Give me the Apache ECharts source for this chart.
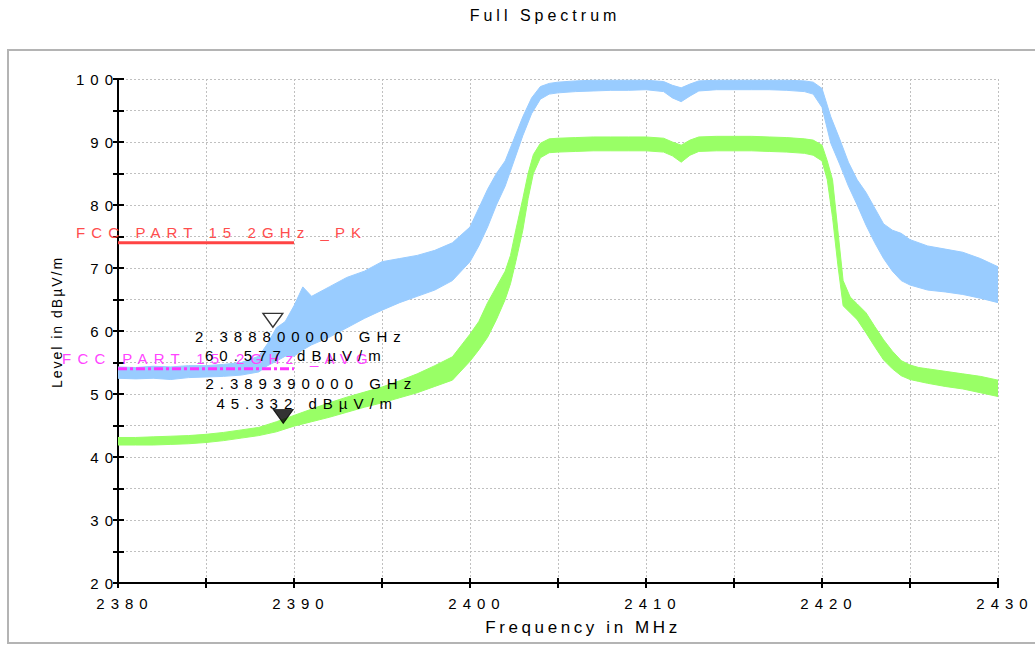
<!DOCTYPE html>
<html>
<head>
<meta charset="utf-8">
<script src="https://cdn.jsdelivr.net/npm/echarts@6/dist/echarts.min.js"></script>
<style>
html,body{margin:0;padding:0;background:#fff;}
#main{width:1035px;height:646px;}
</style>
</head>
<body>
<div id="main"></div>
<script>
// ---- data ----
const titleText = 'Full Spectrum';
const xName = 'Frequency in MHz';
const yName = 'Level in dBµV/m';

// Peak trace (blue) envelope: frequency (MHz), lower edge, upper edge (dBµV/m)
const peakFreq = [2380,2381,2382,2383,2384,2385,2386,2387,2388,2388.5,2389,2389.5,2390,2390.5,2391,2392,2393,2394,2395,2396,2397,2398,2399,2400,2400.5,2401,2401.5,2402,2402.5,2403,2403.5,2404,2404.5,2405,2406,2407,2408,2409,2410,2411,2411.5,2412,2412.5,2413,2414,2415,2416,2417,2418,2419,2419.5,2420,2420.5,2421,2421.5,2422,2422.5,2423,2423.5,2424,2424.5,2425,2426,2427,2428,2429,2430];
const peakLo   = [52.5,52.4,52.5,52.3,52.6,52.7,52.8,53.0,53.5,54.5,55.2,56.0,56.0,57.0,57.8,59.0,60.5,62.0,63.3,64.5,65.5,66.5,68.0,71.0,73.5,76.5,80.0,83.0,87.0,91.0,94.5,96.8,97.6,97.8,98.0,98.1,98.2,98.2,98.3,98.0,97.0,96.4,97.3,98.1,98.3,98.3,98.3,98.3,98.2,98.0,97.6,95.5,89.8,86.5,83.0,80.0,76.8,74.0,71.5,69.5,68.0,67.3,66.5,66.2,65.8,65.2,64.5];
const peakHi   = [54.3,54.2,54.4,54.3,54.5,54.5,54.7,55.0,56.0,58.0,60.5,61.5,64.0,67.0,65.5,67.0,68.5,69.5,71.0,71.5,72.0,72.8,74.0,76.5,79.5,82.5,85.0,87.0,90.5,94.0,97.0,98.8,99.3,99.5,99.7,99.8,99.8,99.8,99.8,99.6,99.0,98.6,99.2,99.7,99.8,99.8,99.8,99.8,99.8,99.7,99.5,98.5,94.0,90.5,86.8,84.0,82.0,79.5,77.0,76.0,75.5,74.5,73.5,73.0,72.5,71.5,70.2];

// Average trace (green) envelope
const avgFreq = [2380,2381,2382,2383,2384,2385,2386,2387,2388,2389,2390,2391,2392,2393,2394,2395,2396,2397,2398,2399,2400,2400.5,2401,2401.5,2402,2402.3,2402.6,2403,2403.3,2403.6,2404,2404.5,2405,2406,2407,2408,2409,2410,2411,2411.5,2412,2412.5,2413,2414,2415,2416,2417,2418,2419,2419.5,2420,2420.3,2420.6,2420.9,2421.2,2421.6,2422,2422.5,2423,2423.5,2424,2424.5,2425,2425.5,2426,2427,2428,2429,2430];
const avgLo   = [41.9,41.9,41.9,42.0,42.1,42.3,42.6,43.0,43.4,44.0,44.9,45.6,46.3,47.1,47.9,48.6,49.4,50.2,51.2,52.2,55.2,57.0,59.0,61.8,65.0,67.5,71.0,76.0,81.0,85.0,87.5,88.3,88.4,88.5,88.6,88.6,88.6,88.6,88.4,87.8,86.8,87.9,88.5,88.6,88.6,88.6,88.5,88.4,88.2,87.9,87.0,84.0,78.0,70.5,64.0,62.9,61.8,59.7,57.5,55.4,54.0,52.9,52.3,52.0,51.7,51.2,50.8,50.2,49.6];
const avgHi   = [43.1,43.1,43.2,43.3,43.4,43.6,43.9,44.3,44.7,45.6,46.6,47.6,48.6,49.5,50.3,51.1,52.1,53.2,54.5,55.9,59.5,61.5,64.5,67.0,69.5,72.0,76.0,81.0,85.0,88.0,89.8,90.5,90.6,90.7,90.8,90.8,90.8,90.8,90.6,90.0,89.5,90.3,90.8,90.9,90.9,90.9,90.8,90.7,90.5,90.3,89.5,87.0,84.0,76.0,68.0,65.4,64.3,62.9,60.7,58.6,56.8,55.3,54.6,54.2,54.0,53.6,53.2,52.8,52.2];

// Limit lines
const pkLimitName = 'FCC PART 15 2GHz _PK';
const pkLimitFreq = [2380, 2390];
const pkLimitLevel = [74, 74];
const avgLimitName = 'FCC PART 15 2GHz _AVG';
const avgLimitFreq = [2380, 2390];
const avgLimitLevel = [54, 54];

// Markers
const marker1 = [2388.8, 60.577];
const marker1Text = ['2.388800000 GHz', '60.577 dBµV/m'];
const marker2 = [2389.39, 45.332];
const marker2Text = ['2.389390000 GHz', '45.332 dBµV/m'];

// Axis ticks
const xMin = 2380, xMax = 2430, xStep = 5, xLabelStep = 10;
const yMin = 20, yMax = 100, yStep = 5, yLabelStep = 10;

// ---- chart ----
const FONT = '"Liberation Sans", Arial, sans-serif';
const BLUE = '#99ccff', GREEN = '#99ff66';
const chart = echarts.init(document.getElementById('main'), null, {renderer: 'svg'});

function bandSeries(freq, lo, hi, color, z) {
  return {
    type: 'custom',
    z: z,
    silent: true,
    clip: true,
    data: [[freq[0], lo[0]]],
    renderItem: function (params, api) {
      const pts = [];
      for (let i = 0; i < freq.length; i++) pts.push(api.coord([freq[i], hi[i]]));
      for (let i = freq.length - 1; i >= 0; i--) pts.push(api.coord([freq[i], lo[i]]));
      return {type: 'polygon', shape: {points: pts}, style: {fill: color, stroke: color, lineWidth: 1}};
    }
  };
}

const gridRect = {left: 118, top: 79, right: 37, bottom: 63};
const labelFont = {fontFamily: FONT, fontSize: 15, color: '#000'};
const gridLine = {show: true, lineStyle: {color: '#c0c0c0', type: [2, 2], width: 1}};

chart.setOption({
  animation: false,
  backgroundColor: '#fff',
  grid: gridRect,
  xAxis: [{
    type: 'value', min: xMin, max: xMax, interval: xStep,
    axisLine: {lineStyle: {color: '#000', width: 2}},
    axisTick: {show: true, length: 5, lineStyle: {color: '#000', width: 2}},
    axisLabel: Object.assign({margin: 13, padding: [0, 0, 0, 14],
      formatter: v => (v % xLabelStep === 0 ? String(v) : '')}, labelFont),
    splitLine: gridLine
  }, {
    type: 'value', min: xMin, max: xMax, interval: xStep, position: 'bottom',
    axisLine: {show: false},
    axisTick: {show: true, inside: true, length: 5, lineStyle: {color: '#000', width: 2}},
    axisLabel: {show: false}, splitLine: {show: false}
  }],
  yAxis: [{
    type: 'value', min: yMin, max: yMax, interval: yStep,
    axisLine: {show: true, lineStyle: {color: '#000', width: 2}},
    axisTick: {show: true, length: 5, lineStyle: {color: '#000', width: 2}},
    axisLabel: Object.assign({margin: -1,
      formatter: v => (v % yLabelStep === 0 ? String(v) : '')}, labelFont),
    splitLine: gridLine
  }, {
    type: 'value', min: yMin, max: yMax, interval: yStep, position: 'left',
    axisLine: {show: false},
    axisTick: {show: true, inside: true, length: 6, lineStyle: {color: '#000', width: 2}},
    axisLabel: {show: false}, splitLine: {show: false}
  }],
  series: [
    bandSeries(peakFreq, peakLo, peakHi, BLUE, 2),
    bandSeries(avgFreq, avgLo, avgHi, GREEN, 3),
    {
      type: 'line', z: 5, silent: true, symbol: 'none',
      data: pkLimitFreq.map((f, i) => [f, pkLimitLevel[i]]),
      lineStyle: {color: '#ff4444', width: 3}
    },
    {
      type: 'line', z: 5, silent: true, symbol: 'none',
      data: avgLimitFreq.map((f, i) => [f, avgLimitLevel[i]]),
      lineStyle: {color: '#ff33ff', width: 3, type: [9, 3, 3, 3]}
    },
    {
      type: 'scatter', z: 6, silent: true,
      data: [marker1],
      symbol: 'path://M0 0 L20 0 L10 14 Z', symbolSize: [20, 14], symbolOffset: [0, -7],
      itemStyle: {color: '#fff', borderColor: '#000', borderWidth: 1.3}
    },
    {
      type: 'scatter', z: 6, silent: true,
      data: [marker2],
      symbol: 'path://M0 0 L20 0 L10 14 Z', symbolSize: [20, 14], symbolOffset: [0, -7],
      itemStyle: {color: '#000', borderColor: '#000', borderWidth: 1}
    }
  ]
});

// ---- text annotations placed from the library's scales ----
function px(pt) { return chart.convertToPixel({gridIndex: 0}, pt); }
function txt(text, x, y, opts) {
  return {
    type: 'text', x: x, y: y, z: 100, silent: true,
    rotation: opts.rotation || 0,
    style: {
      text: text, fill: opts.color || '#000',
      font: (opts.size || 15) + 'px ' + FONT,
      align: opts.align || 'center', verticalAlign: 'middle',
      textAlign: opts.align || 'center', textVerticalAlign: 'middle'
    }
  };
}
const pkStart = px([pkLimitFreq[0], pkLimitLevel[0]]);
const avgStart = px([avgLimitFreq[0], avgLimitLevel[0]]);
const m1 = px(marker1), m2 = px(marker2);
const gl = gridRect.left, gr = 1035 - gridRect.right;

chart.setOption({
  graphic: [
    {type: 'rect', z: 0, silent: true, shape: {x: 8, y: 50, width: 1100, height: 593},
     style: {fill: 'none', stroke: '#b4b4b4', lineWidth: 2}},
    txt(titleText, 545, 15, {size: 16}),
    txt(pkLimitName, pkStart[0] - 42, pkStart[1] - 10, {color: '#ff4d4d', align: 'left'}),
    txt(avgLimitName, avgStart[0] - 56, avgStart[1] - 10, {color: '#ff44ff', align: 'left'}),
    txt(marker1Text[0], m1[0] + 28, m1[1] + 9, {}),
    txt(marker1Text[1], m1[0] + 23, m1[1] + 28, {}),
    txt(marker2Text[0], m2[0] + 28, m2[1] - 40, {}),
    txt(marker2Text[1], m2[0] + 24, m2[1] - 20, {}),
    txt(xName, (gl + gr) / 2 + 25, 627, {size: 17}),
    txt(yName, 57, 322, {size: 14, rotation: Math.PI / 2})
  ]
});

function applySpacing() {
  document.querySelectorAll('#main text').forEach(t => {
    const s = t.textContent || '';
    let ls = 6;
    if (s === titleText) ls = 4;
    else if (s === xName) ls = 3.6;
    else if (s === yName) ls = 2;
    else if (s === pkLimitName) ls = 6.1;
    else if (s === avgLimitName) ls = 6.3;
    t.style.letterSpacing = ls + 'px';
  });
}
chart.on('finished', applySpacing);
applySpacing();
setTimeout(applySpacing, 30);
setTimeout(applySpacing, 200);
</script>
</body>
</html>
